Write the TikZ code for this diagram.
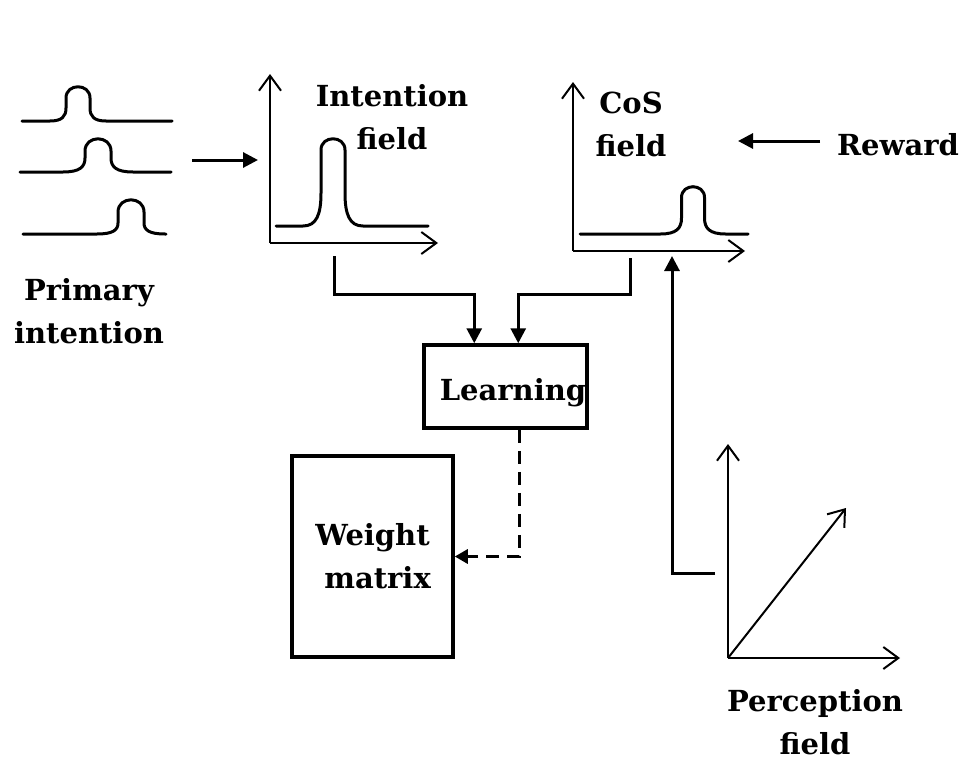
\documentclass[tikz,border=0pt]{standalone}
\usepackage{fontspec}
\setmainfont{DejaVu Serif}
\usetikzlibrary{arrows.meta}
\newcommand\bumpcurve[8]{% xstart, cx, xend, y0, h, r, s, v
\draw[curve] (#1,#4) -- ({#2-#6-#7},#4)
 .. controls ({#2-#6-0.25*#7},#4) and ({#2-#6},{#4-0.35*#8}) .. ({#2-#6},{#4-#8})
 -- ({#2-#6},{#4-#5+#6})
 .. controls ({#2-#6},{#4-#5-0.25*#6}) and ({#2+#6},{#4-#5-0.25*#6}) .. ({#2+#6},{#4-#5+#6})
 -- ({#2+#6},{#4-#8})
 .. controls ({#2+#6},{#4-0.35*#8}) and ({#2+#6+0.25*#7},#4) .. ({#2+#6+#7},#4)
 -- (#3,#4);}
\begin{document}
\begin{tikzpicture}[x=1pt,y=-1pt,
  curve/.style={line width=3pt, line cap=round, line join=round},
  axis/.style={line width=2pt, -{Straight Barb[length=15pt,width=22pt]}},
  conn/.style={line width=3pt, -{Triangle[length=15pt,width=15pt]}},
  dconn/.style={line width=3pt, dash pattern=on 13pt off 8pt, -{Triangle[length=13pt,width=14pt]}},
  lbl/.style={font=\fontsize{29}{43}\selectfont\bfseries, align=center, inner sep=0pt},
  box/.style={draw, line width=3.5pt, inner sep=0pt}]
\useasboundingbox (0,0) rectangle (965,760);

% primary intention curves
\bumpcurve{22}{78}{172}{121}{35}{12}{16}{13}
\bumpcurve{20}{98}{171}{172}{34}{13}{22}{14}
\bumpcurve{23}{131}{166}{234}{35}{13}{21}{11}
\node[lbl] (prim) at (89,311) {Primary\\intention};

% input arrow
\coordinate (a1) at (192,160);
\coordinate (a2) at (258,160);
\draw[conn] (a1) -- (a2);

% intention field
\coordinate (io) at (270,243);
\draw[axis] (io) -- (270,74);
\draw[axis] (io) -- (438,243);
\bumpcurve{276}{333}{428}{226}{88}{12}{18}{33}
\node[lbl] (intl) at (392,117) {Intention\\field};

% CoS field
\coordinate (co) at (573,251);
\draw[axis] (co) -- (573,82);
\draw[axis] (co) -- (745,251);
\bumpcurve{580}{693}{748}{234}{48}{11.5}{21}{16}
\node[lbl] (cosl) at (631,124) {CoS\\field};

% reward
\node[lbl] (rew) at (898,145) {Reward};
\coordinate (r1) at (820,141);
\coordinate (r2) at (738,141);
\draw[conn] (r1) -- (r2);

% learning
\node[box, minimum width=163pt, minimum height=83pt] (learn) at (505.5,386.5) {};
\node[lbl] (learnt) at (513,393) {Learning};
\coordinate (i1) at (334,256);
\coordinate (c1) at (630,258);
\coordinate (l1) at ([xshift=52pt]learn.north west);
\coordinate (l2) at ([xshift=96pt]learn.north west);
\draw[conn] (i1) -- (334,294) -| (l1);
\draw[conn] (c1) -- (630,294) -| (l2);

% weight matrix
\node[box, lbl, minimum width=161pt, minimum height=201pt] (weight) at (372.5,556.5) {Weight\\\ matrix};
\coordinate (l3) at ([xshift=97pt]learn.south west);
\draw[dconn] (l3) |- (weight.east);

% perception field
\coordinate (po) at (728,658);
\draw[axis] (po) -- (728,444);
\draw[axis] (po) -- (900,658);
\draw[axis] (po) -- (846,508);
\node[lbl] (perc) at (815,722) {Perception\\field};
\coordinate (p1) at (715,573);
\coordinate (c2) at (672,256);
\draw[conn] (p1) -| (c2);
\end{tikzpicture}
\end{document}
